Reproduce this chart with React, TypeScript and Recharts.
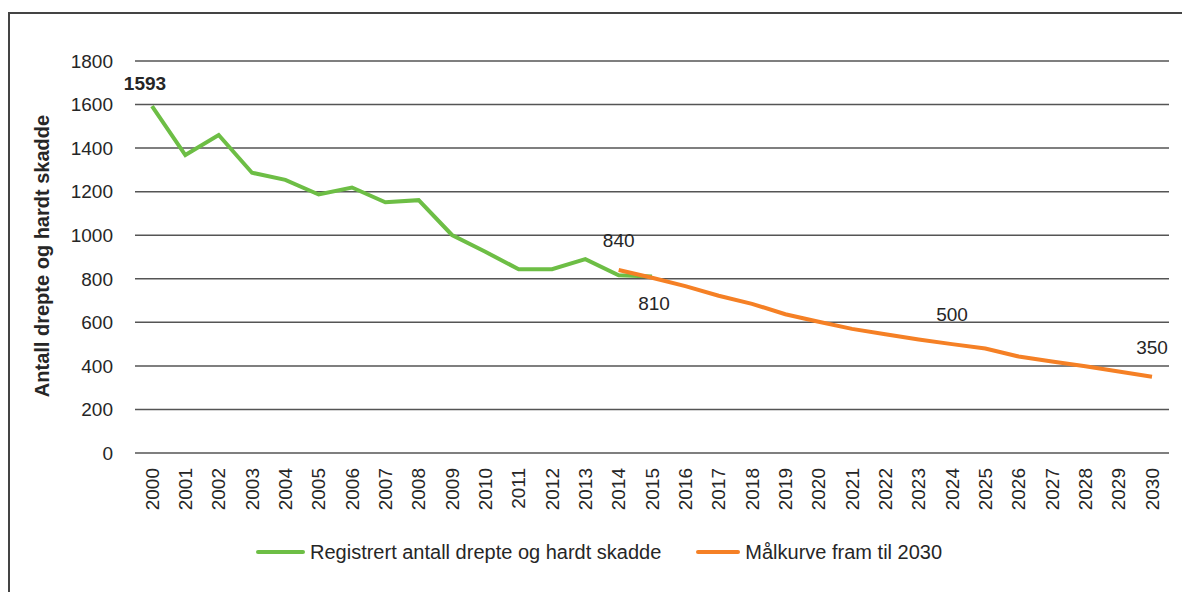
import React from "react";
import { LineChart, Line, XAxis, YAxis, CartesianGrid, Legend } from "recharts";

const years = [
  2000, 2001, 2002, 2003, 2004, 2005, 2006, 2007, 2008, 2009, 2010,
  2011, 2012, 2013, 2014, 2015, 2016, 2017, 2018, 2019, 2020,
  2021, 2022, 2023, 2024, 2025, 2026, 2027, 2028, 2029, 2030,
];

// registrert 2000-2015
const registered = [
  1593, 1368, 1460, 1287, 1254, 1187, 1219, 1151, 1161, 1001, 924,
  844, 844, 890, 816, 810,
];

// målkurve 2014-2030
const targetStart = 2014;
const target = [
  840, 805, 766, 722, 685, 637, 603, 570, 545, 521, 500, 480, 443, 420, 398, 374, 350,
];

const yTicks = [0, 200, 400, 600, 800, 1000, 1200, 1400, 1600, 1800];

const greenLabelYears = [2000, 2015];
const orangeLabelYears = [2014, 2024, 2030];

const GREEN = "#6DBE45";
const ORANGE = "#F58025";
const TEXT = "#262626";
const FONT = "'Liberation Sans', Arial, sans-serif";

const data = years.map((year, i) => ({
  year,
  registered: i < registered.length ? registered[i] : null,
  target: year >= targetStart ? target[year - targetStart] : null,
}));

function XTick(props: any) {
  const { x, y, payload } = props;
  return (
    <text
      x={x}
      y={y}
      transform={`rotate(-90, ${x}, ${y})`}
      textAnchor="end"
      dy="0.36em"
      fontSize={19}
      fill={TEXT}
      fontFamily={FONT}
    >
      {payload.value}
    </text>
  );
}

function YLabel() {
  return (
    <text
      x={42}
      y={256}
      transform="rotate(-90, 42, 256)"
      textAnchor="middle"
      dominantBaseline="central"
      fontSize={20}
      fontWeight="bold"
      fill={TEXT}
      fontFamily={FONT}
    >
      Antall drepte og hardt skadde
    </text>
  );
}

function makeLabel(labelYears: number[], key: "registered" | "target") {
  return (props: any) => {
    const { x, y, index, value } = props;
    const year = years[index];
    if (!labelYears.includes(year) || value == null) return null;
    const bold = key === "registered" && year === 2000;
    const below = key === "registered" && year === 2015;
    let dx = 0;
    let dy = -23;
    if (bold) {
      dx = -7;
      dy = -16;
    }
    if (below) {
      dx = 2;
      dy = 33;
    }
    return (
      <text
        key={`${key}-${index}`}
        x={x + dx}
        y={y + dy}
        textAnchor="middle"
        fontSize={19}
        fontWeight={bold ? "bold" : "normal"}
        fill={TEXT}
        fontFamily={FONT}
      >
        {value}
      </text>
    );
  };
}

function LegendContent() {
  const item = (color: string, label: string, lineW: number, ml: number) => (
    <div style={{ display: "flex", alignItems: "center", marginLeft: ml }}>
      <div style={{ width: lineW, height: 4, background: color, borderRadius: 2, marginRight: 5 }} />
      <span style={{ fontSize: 20, color: TEXT, fontFamily: FONT }}>{label}</span>
    </div>
  );
  return (
    <div style={{ height: 80, display: "flex", alignItems: "center", paddingLeft: 256 }}>
      {item(GREEN, "Registrert antall drepte og hardt skadde", 49, 0)}
      {item(ORANGE, "Målkurve fram til 2030", 44, 35)}
    </div>
  );
}

export default function App() {
  return (
    <div style={{ position: "absolute", left: 0, top: 0, width: 1182, height: 592, background: "#fff" }}>
      <div
        style={{
          position: "absolute",
          left: 8,
          top: 12,
          right: 0,
          bottom: 0,
          borderTop: "2px solid #444",
          borderLeft: "2px solid #444",
        }}
      />
      <div style={{ position: "absolute", left: 0, top: 0 }}>
        <LineChart width={1182} height={592} data={data} margin={{ top: 61, right: 13, left: 0, bottom: 0 }}>
          <CartesianGrid vertical={false} stroke="#555" strokeWidth={1.5} />
          <XAxis
            dataKey="year"
            interval={0}
            axisLine={false}
            tickLine={false}
            height={59}
            padding={{ left: 17, right: 17 }}
            tick={<XTick />}
            tickMargin={9}
          />
          <YAxis
            width={135}
            domain={[0, 1800]}
            ticks={yTicks}
            axisLine={false}
            tickLine={false}
            tickMargin={16}
            tick={{ fontSize: 19, fill: TEXT, fontFamily: FONT }}
            label={<YLabel />}
          />
          <Legend verticalAlign="bottom" height={80} content={<LegendContent />} />
          <Line
            dataKey="registered"
            stroke={GREEN}
            strokeWidth={4}
            dot={false}
            isAnimationActive={false}
            label={makeLabel(greenLabelYears, "registered")}
          />
          <Line
            dataKey="target"
            stroke={ORANGE}
            strokeWidth={4}
            dot={false}
            isAnimationActive={false}
            label={makeLabel(orangeLabelYears, "target")}
          />
        </LineChart>
      </div>
    </div>
  );
}
